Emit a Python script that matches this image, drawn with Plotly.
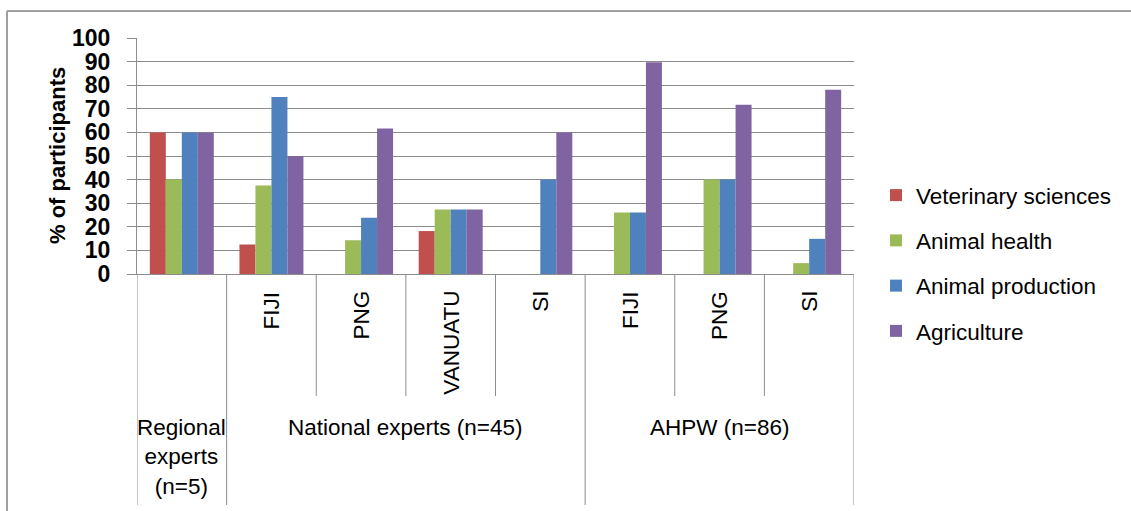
import plotly.graph_objects as go

# ---- data -------------------------------------------------------------
groups = ["Regional<br>experts<br>(n=5)", "National experts (n=45)", "AHPW (n=86)"]
group_sizes = [1, 4, 3]
countries = ["", "FIJI", "PNG", "VANUATU", "SI", "FIJI", "PNG", "SI"]

series_names = ["Veterinary sciences", "Animal health", "Animal production", "Agriculture"]
veterinary = [60, 12.5, 0, 18.2, 0, 0, 0, 0]
animal_health = [40, 37.5, 14.3, 27.3, 0, 26.1, 40, 4.6]
animal_production = [60, 75, 23.8, 27.3, 40, 26.1, 40, 14.9]
agriculture = [60, 50, 61.6, 27.3, 60, 89.7, 71.7, 78.1]
colors = ["#C0504D", "#9BBB59", "#4F81BD", "#8064A2"]

y_ticks = [0, 10, 20, 30, 40, 50, 60, 70, 80, 90, 100]

# ---- geometry helpers (pixel -> paper) --------------------------------
W, H = 1131, 511
L, R, T, B = 137, 277, 38, 237
PW, PH = W - L - R, H - T - B


def px(x):
    return (x - L) / PW


def py(y):
    return (H - B - y) / PH


FONT = "Liberation Sans"
LINE = "#8C8C8C"

fig = go.Figure()
xs = list(range(len(countries)))
for name, vals, col in zip(series_names, [veterinary, animal_health, animal_production, agriculture], colors):
    fig.add_trace(go.Bar(x=xs, y=vals, name=name, marker=dict(color=col, line=dict(width=0)),
                         legendgroup=name))

shapes = []
annotations = []

# category labels, rotated, hanging below the axis
for i, c in enumerate(countries):
    if c:
        annotations.append(dict(x=i, xref="x", y=py(289), yref="paper", text=c, textangle=-90,
                                showarrow=False, xanchor="center", yanchor="top",
                                font=dict(family=FONT, size=22.5, color="black")))

# dividers between categories and between groups
group_edges = [-0.5]
for s in group_sizes:
    group_edges.append(group_edges[-1] + s)
for k in range(len(countries) + 1):
    xb = k - 0.5
    bottom = py(505) if xb in group_edges else py(396)
    shapes.append(dict(type="line", xref="x", yref="paper", x0=xb, x1=xb, y0=0, y1=bottom,
                       line=dict(color=LINE, width=1)))

# group labels
start = 0
for g, s in zip(groups, group_sizes):
    centre = start + (s - 1) / 2
    annotations.append(dict(x=centre, xref="x", y=py(413), yref="paper", text=g, showarrow=False,
                            xanchor="center", yanchor="top", align="center",
                            font=dict(family=FONT, size=22.5, color="black")))
    start += s

# y axis title
annotations.append(dict(x=px(57), xref="paper", y=0.5, yref="paper", text="<b>% of participants</b>",
                        textangle=-90, showarrow=False, xanchor="center", yanchor="middle",
                        font=dict(family=FONT, size=22, color="black")))

# outer frame (top and left edges)
shapes.append(dict(type="line", xref="paper", yref="paper", x0=px(7), x1=px(1131), y0=py(11), y1=py(11),
                   line=dict(color="#A0A0A0", width=2)))
shapes.append(dict(type="line", xref="paper", yref="paper", x0=px(7), x1=px(7), y0=py(11), y1=py(511),
                   line=dict(color="#A0A0A0", width=2)))

fig.update_layout(
    width=W, height=H,
    margin=dict(l=L, r=R, t=T, b=B, pad=0),
    paper_bgcolor="white", plot_bgcolor="white",
    barmode="group", bargap=0.286, bargroupgap=0,
    shapes=shapes, annotations=annotations,
    legend=dict(x=px(876), xanchor="left", y=py(174), yanchor="top",
                font=dict(family=FONT, size=22.5, color="black"),
                tracegroupgap=13, traceorder="grouped", bgcolor="rgba(0,0,0,0)"),
    xaxis=dict(range=[-0.5, len(countries) - 0.5], showticklabels=False, showgrid=False,
               showline=True, linecolor=LINE, linewidth=1, ticks="", zeroline=False, fixedrange=True),
    yaxis=dict(range=[0, 100], tickvals=y_ticks, showgrid=True, gridcolor=LINE, gridwidth=1,
               showline=True, linecolor=LINE, linewidth=1, ticks="outside", ticklen=9, tickcolor=LINE,
               ticklabelstandoff=12, zeroline=False,
               tickfont=dict(family=FONT, size=23, color="black", weight="bold")),
)

fig.write_html("out.html")
